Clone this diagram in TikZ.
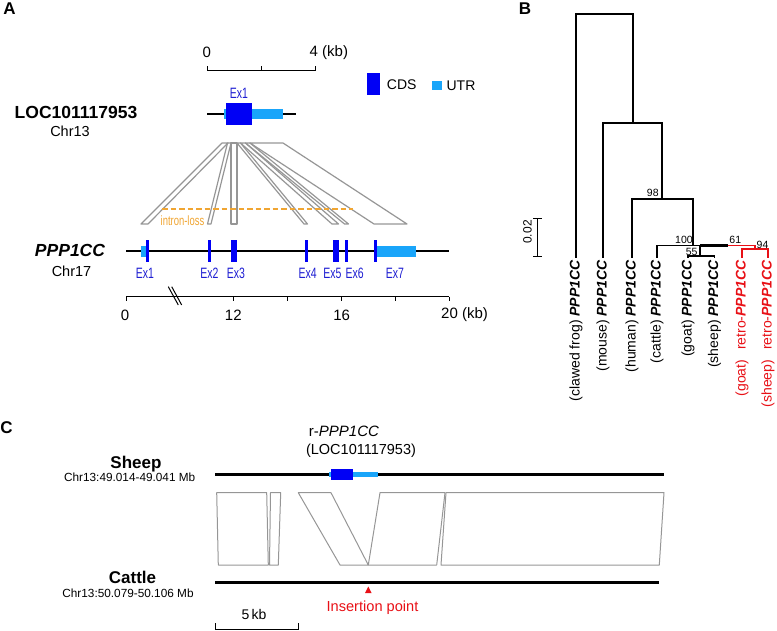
\documentclass[tikz,border=0pt]{standalone}
\usepackage{fontspec}
\setmainfont{Liberation Sans}
\usepackage{graphicx}
\usetikzlibrary{positioning,calc}

\definecolor{cdsblue}{RGB}{0,0,245}
\definecolor{utrblue}{RGB}{25,165,250}
\definecolor{exblue}{RGB}{30,30,210}
\definecolor{linkgray}{RGB}{150,150,150}
\definecolor{lossorange}{RGB}{240,165,50}
\definecolor{retrored}{RGB}{232,16,22}

\newcommand{\fs}[1]{\fontsize{#1}{#1}\selectfont}
\newcommand{\narrowtext}[1]{\scalebox{0.7}[1]{#1}}
\newcommand{\gname}{\textbf{\textit{PPP1CC}}}

\begin{document}
\begin{tikzpicture}[x=1pt, y=-1pt,
  panel/.style={font=\fs{17}\bfseries, inner sep=0pt},
  txt/.style={font=\fs{#1}, inner sep=0pt},
  txt/.default=15,
  exlabel/.style={text=exblue, font=\fs{15}, inner sep=0pt},
  gene/.style={line width=2.6pt},
  cds/.style={fill=cdsblue, draw=none, inner sep=0pt},
  utr/.style={fill=utrblue, draw=none, inner sep=0pt},
  link/.style={draw=linkgray, line width=1.2pt, line join=round},
  block/.style={draw=linkgray, line width=1pt, line join=round},
  scalebar/.style={line width=1pt},
  tree/.style={line width=1.2pt},
  leaf/.style={rotate=90, anchor=east, inner sep=0pt, font=\fs{14}},
  boot/.style={font=\fs{10.5}, inner sep=0pt},
]
\useasboundingbox (0,0) rectangle (777,631);

% Panel A
\node[panel] (lblA) at (9.5,9) {A};

% kb scale of the retrocopy
\coordinate (sa0) at (207,71);
\coordinate (sa4) at (315,71);
\draw[scalebar] (sa0) -- (sa4);
\foreach \x in {207,261,315} \draw[scalebar] (\x,71) -- (\x,66.5);
\node[txt] (sa0lbl) at (206.7,52) {0};
\node[txt, anchor=west] (sa4lbl) at (309.5,53) {4 (kb)};

% legend
\node[cds, minimum width=12.7pt, minimum height=21.7pt] (legcds) at (373.7,84.2) {};
\node[txt=14, right=6.5pt of legcds] (legcdstxt) {CDS};
\node[utr, minimum width=10pt, minimum height=9.4pt] (legutr) at (436.7,85.3) {};
\node[txt=14, right=4.5pt of legutr] (legutrtxt) {UTR};

% retrocopy on Chr13
\node[font=\fs{17.5}\bfseries, inner sep=0pt] (loc) at (76,112) {LOC101117953};
\node[txt=14.5] (chr13) at (70,131) {Chr13};
\draw[gene] (207,114) -- (296,114);
\fill[utrblue] (224,108.7) rectangle (283,119.3);
\fill[cdsblue] (226,103.3) rectangle (252,125);
\node[exlabel] (locex1) at (239,93) {\narrowtext{Ex1}};

% exon links
\foreach \ta/\tb/\ba/\bb in {222/228/141/148, 227.5/231/207.5/211, 231/237/231/237,
    237/240.5/304/307.5, 240.5/245.5/332/338.5, 245.5/250/344.5/348.5, 250/283/374/407}
  \draw[link] (\ta,143) -- (\tb,143) -- (\bb,224) -- (\ba,224) -- cycle;

% intron loss
\draw[lossorange, line width=1.6pt, dash pattern=on 5.5pt off 3pt] (162,209.3) -- (353,209.3);
\node[text=lossorange, font=\fs{13.5}, inner sep=0pt, anchor=west] (loss) at (160.5,220.5) {\narrowtext{intron-loss}};

% parental gene on Chr17
\node[font=\fs{17.5}\bfseries\itshape, inner sep=0pt] (ppp) at (70,250) {PPP1CC};
\node[txt=14.5] (chr17) at (71.5,271) {Chr17};
\draw[gene] (126,251) -- (449,251);
\fill[utrblue] (140.7,245.7) rectangle (146.5,256.7);
\fill[utrblue] (376.5,245.7) rectangle (416,256.7);
\foreach \a/\b in {146.3/148.6, 208.3/211, 230.7/236.7, 305/307.5, 333/338.7, 345/348.3, 374/376.5}
  \fill[cdsblue] (\a,240) rectangle (\b,262);
\foreach \x/\n in {145/1, 209.3/2, 236/3, 307.7/4, 332.3/5, 354.7/6, 395/7}
  \node[exlabel] (ex\n) at (\x,273) {\narrowtext{Ex\n}};

% kb scale of the parental gene
\draw[scalebar] (126,297) -- (449,297);
\foreach \x in {126,233.3,287.7,341.7,395.7,449} \draw[scalebar] (\x,297) -- (\x,301.5);
\draw[scalebar] (168.3,286.7) -- (178.3,305);
\draw[scalebar] (171.7,286.7) -- (181.7,305);
\node[txt] (sb0) at (125,315) {0};
\node[txt] (sb12) at (233.3,315) {12};
\node[txt] (sb16) at (341.7,315) {16};
\node[txt, anchor=west] (sb20) at (441,315) {20 (kb)};

% Panel B
\node[panel] (lblB) at (525,9) {B};

% tips and inner nodes
\coordinate (tfrog) at (576,258);
\coordinate (tmouse) at (603,258);
\coordinate (thuman) at (632,258);
\coordinate (tcattle) at (657,258);
\coordinate (tgoat) at (688,258);
\coordinate (tsheep) at (714.5,258);
\coordinate (trgoat) at (742,258);
\coordinate (trsheep) at (768,258);
\coordinate (root) at (604,14);
\coordinate (n2) at (633,123);
\coordinate (n3) at (662,199);
\coordinate (n4) at (693,245.5);
\coordinate (n5) at (700,256);
\coordinate (n5up) at (700,245.5);
\coordinate (n6a) at (728,245.5);
\coordinate (n6up) at (755,245.5);
\coordinate (n6) at (755,249);

\draw[tree] (tfrog) |- (root) -| (n2);
\draw[tree] (tmouse) |- (n2) -| (n3);
\draw[tree] (thuman) |- (n3) -| (n4);
\draw[tree] (tcattle) |- (n4) -- (n5up) -- (n5);
\draw[tree] (tgoat) |- (n5) -| (tsheep);
\draw[line width=3pt] (n5up) -- (n6a);
\draw[tree, retrored] (n6a) -- (n6up) -- (n6);
\draw[tree, retrored] (trgoat) |- (n6) -| (trsheep);

% bootstrap values
\node[boot] (b98) at (652.8,193) {98};
\node[boot] (b100) at (684,239.5) {100};
\node[boot] (b55) at (691.7,251.7) {55};
\node[boot] (b61) at (735.3,240) {61};
\node[boot] (b94) at (762.5,244.5) {94};

% branch length scale
\draw[scalebar] (537,219) -- (537,257);
\draw[scalebar] (533,219) -- (541.5,219);
\draw[scalebar] (533,257) -- (541.5,257);
\node[font=\fs{12}, inner sep=0pt, rotate=90] (bscale) at (527.5,232) {0.02};

% leaf labels
\foreach \x/\sp/\nm in {576/clawed frog/frog, 603/mouse/mouse, 632/human/human,
    657/cattle/cattle, 688/goat/goat, 714.5/sheep/sheep}
  \node[leaf] (l\nm) at (\x,260) {(\sp) \gname};
\node[leaf, text=retrored] (lrgoat) at (742,260) {(goat)\hspace{10pt}retro-\gname};
\node[leaf, text=retrored] (lrsheep) at (768,260) {(sheep)\hspace{10pt}retro-\gname};

% Panel C
\node[panel] (lblC) at (6.5,428) {C};

\node[txt, anchor=base] (rname) at (344,436.5) {r-\textit{PPP1CC}};
\node[txt=14.5, anchor=base] (rloc) at (361,454.5) {(LOC101117953)};

\node[font=\fs{17}\bfseries, inner sep=0pt, anchor=base] (sheep) at (136,468) {Sheep};
\node[txt=11.8, anchor=base] (sheepchr) at (129.7,481.5) {Chr13:49.014-49.041 Mb};
\node[font=\fs{17}\bfseries, inner sep=0pt, anchor=base] (cattle) at (132.5,583) {Cattle};
\node[txt=11.8, anchor=base] (cattlechr) at (128,597.5) {Chr13:50.079-50.106 Mb};

\draw[gene] (215,474.3) -- (664,474.3);
\fill[utrblue] (329.3,471.7) rectangle (378.3,477.3);
\fill[cdsblue] (330.7,469.3) rectangle (352.7,480);
\draw[gene] (215,582.7) -- (659.3,582.7);

% syntenic blocks
\foreach \ta/\tb/\ba/\bb in {216.7/266.7/218.3/268.3, 270.5/280.7/269.5/278.3,
    298.3/331/340/368.3, 380/445/368.3/436.7, 446/664/441/659.3}
  \draw[block] (\ta,492.7) -- (\tb,492.7) -- (\bb,565) -- (\ba,565) -- cycle;

% insertion point
\coordinate (inspt) at (368.3,586.5);
\fill[retrored] (inspt) -- ++(-3.3,6.5) -- ++(6.6,0) -- cycle;
\node[txt=14.6, text=retrored, anchor=base] (ins) at (372.5,611.5) {Insertion point};

% 5 kb scale
\draw[scalebar] (215,629.5) -- (298.3,629.5);
\draw[scalebar] (215,623) -- (215,629.5);
\draw[scalebar] (298.3,623) -- (298.3,629.5);
\node[txt=14, anchor=base] (kb5) at (254,619) {5\,kb};
\end{tikzpicture}
\end{document}
